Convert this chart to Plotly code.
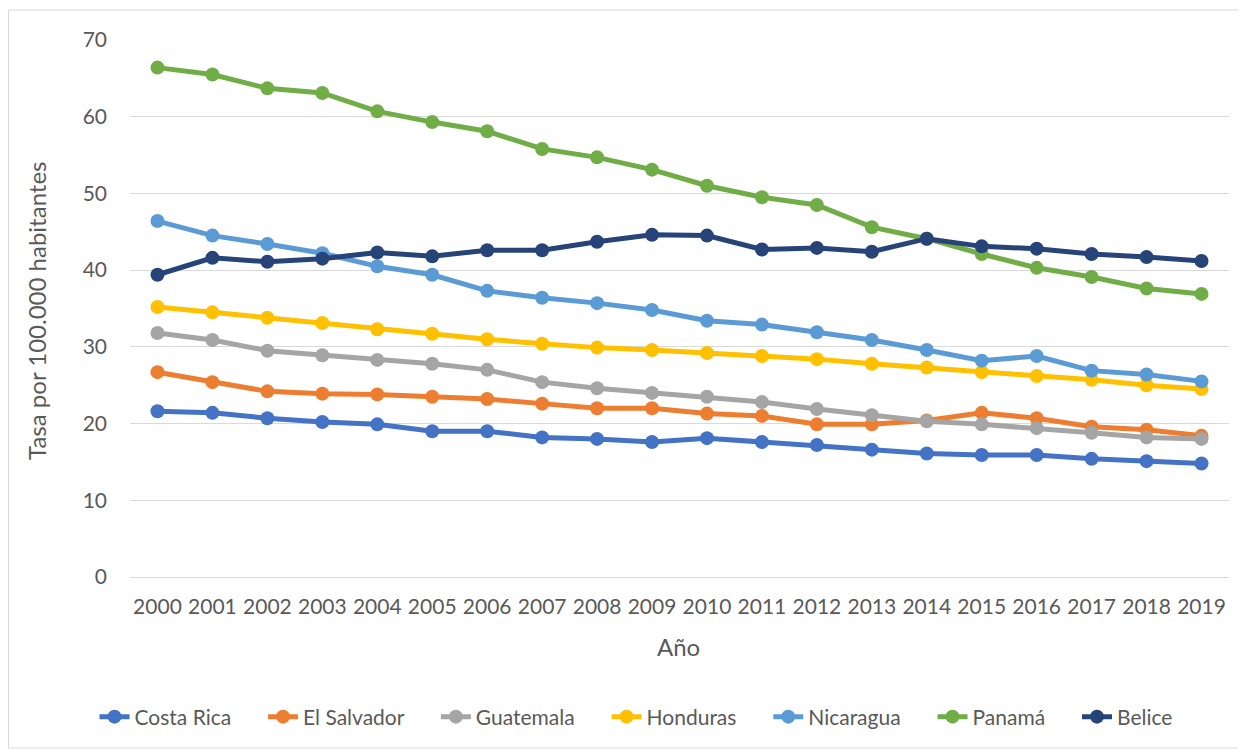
import plotly.graph_objects as go

years = [str(y) for y in range(2000, 2020)]

costa_rica = [21.6, 21.4, 20.7, 20.2, 19.9, 19.0, 19.0, 18.2, 18.0, 17.6, 18.1, 17.6, 17.2, 16.6, 16.1, 15.9, 15.9, 15.4, 15.1, 14.8]
el_salvador = [26.7, 25.4, 24.2, 23.9, 23.8, 23.5, 23.2, 22.6, 22.0, 22.0, 21.3, 21.0, 19.9, 19.9, 20.4, 21.4, 20.7, 19.6, 19.2, 18.4]
guatemala = [31.8, 30.9, 29.5, 28.9, 28.3, 27.8, 27.0, 25.4, 24.6, 24.0, 23.5, 22.8, 21.9, 21.1, 20.3, 19.9, 19.4, 18.8, 18.2, 18.0]
honduras = [35.2, 34.5, 33.8, 33.1, 32.3, 31.7, 31.0, 30.4, 29.9, 29.6, 29.2, 28.8, 28.4, 27.8, 27.3, 26.7, 26.2, 25.7, 25.0, 24.5]
nicaragua = [46.4, 44.5, 43.4, 42.2, 40.5, 39.4, 37.3, 36.4, 35.7, 34.8, 33.4, 32.9, 31.9, 30.9, 29.6, 28.2, 28.8, 26.9, 26.4, 25.5]
panama = [66.4, 65.5, 63.7, 63.1, 60.7, 59.3, 58.1, 55.8, 54.7, 53.1, 51.0, 49.5, 48.5, 45.6, 44.1, 42.1, 40.3, 39.1, 37.6, 36.9]
belice = [39.4, 41.6, 41.1, 41.5, 42.3, 41.8, 42.6, 42.6, 43.7, 44.6, 44.5, 42.7, 42.9, 42.4, 44.1, 43.1, 42.8, 42.1, 41.7, 41.2]

series_names = ["Costa Rica", "El Salvador", "Guatemala", "Honduras", "Nicaragua", "Panamá", "Belice"]
series_values = [costa_rica, el_salvador, guatemala, honduras, nicaragua, panama, belice]
colors = ["#4472C4", "#ED7D31", "#A5A5A5", "#FFC000", "#5B9BD5", "#70AD47", "#264478"]

y_ticks = [0, 10, 20, 30, 40, 50, 60, 70]

PAD = "\u00a0" * 5  # spacing between legend entries

fig = go.Figure()
n = len(series_names)
for i, (name, vals, col) in enumerate(zip(series_names, series_values, colors)):
    fig.add_trace(go.Scatter(
        x=years, y=vals, name=name + (PAD if i < n - 1 else ""), mode="lines+markers",
        line=dict(color=col, width=5),
        marker=dict(color=col, size=14),
    ))

font_family = "Lato, 'Open Sans', sans-serif"
text_color = "#595959"

# page has an 8px body margin; figure is placed at (8, 8)
OFF = 8
W, H = 1246 - OFF, 751 - OFF
L, R, T, B = 130 - OFF, 1246 - 1229, 40 - OFF, 751 - 577
pw, ph = W - L - R, H - T - B

def px_x(p):
    return (p - OFF - L) / pw

def px_y(p):
    return (H - B - (p - OFF)) / ph

fig.update_layout(
    width=W, height=H,
    margin=dict(l=L, r=R, t=T, b=B, autoexpand=False),
    paper_bgcolor="white", plot_bgcolor="white",
    font=dict(family=font_family, color=text_color, size=21),
    showlegend=True,
    legend=dict(orientation="h", x=px_x(636), xanchor="center", y=px_y(717), yanchor="middle",
                font=dict(size=21, color=text_color), traceorder="normal"),
    xaxis=dict(type="category", range=[-0.5, 19.5], showgrid=False, showline=False,
               ticks="", ticklabelstandoff=15, tickfont=dict(size=21, color=text_color)),
    yaxis=dict(range=[0, 70], tickvals=y_ticks, showgrid=True, gridcolor="#D9D9D9",
               gridwidth=1.3, zeroline=True, zerolinecolor="#D9D9D9", zerolinewidth=1.3,
               showline=False, ticks="", ticklabelstandoff=22,
               tickfont=dict(size=21, color=text_color)),
    annotations=[
        dict(text="Año", x=px_x(678), y=px_y(646), xref="paper", yref="paper",
             showarrow=False, font=dict(size=24, color=text_color), xanchor="center", yanchor="middle"),
        dict(text="Tasa por 100.000 habitantes", x=px_x(36), y=px_y(311), xref="paper", yref="paper",
             showarrow=False, textangle=-90, font=dict(size=24, color=text_color),
             xanchor="center", yanchor="middle"),
    ],
    shapes=[
        dict(type="rect", xref="paper", yref="paper",
             x0=px_x(8.5), x1=px_x(1244), y0=px_y(748), y1=px_y(10),
             line=dict(color="#D9D9D9", width=1), fillcolor="rgba(0,0,0,0)", layer="below"),
    ],
)

fig.write_html("out.html")
